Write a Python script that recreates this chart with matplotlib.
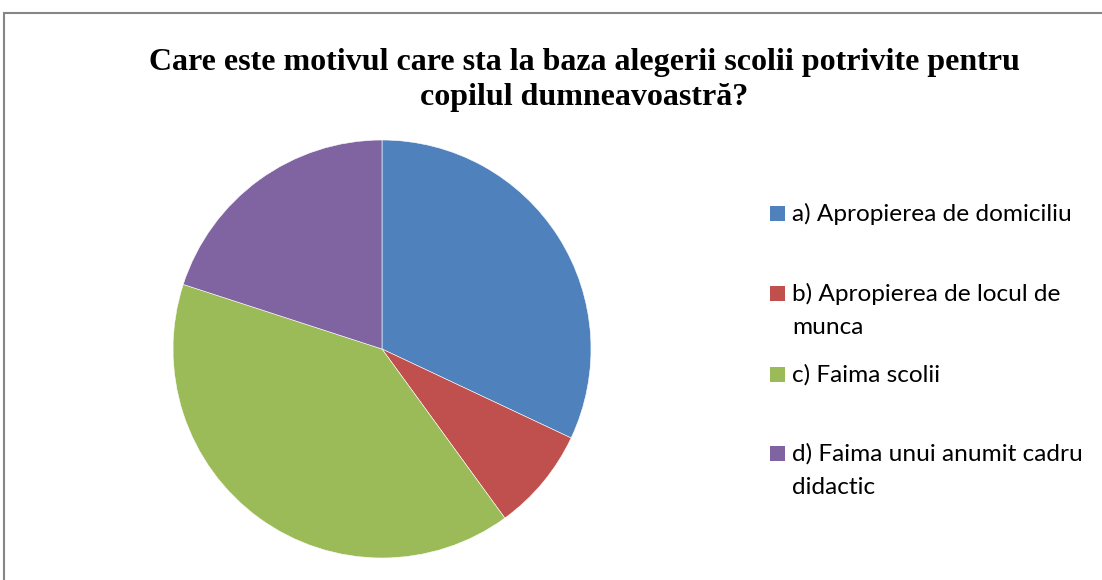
import matplotlib.pyplot as plt
from matplotlib.patches import Rectangle

labels = ['a) Apropierea de domiciliu',
          'b) Apropierea de locul de\nmunca',
          'c) Faima scolii',
          'd) Faima unui anumit cadru\ndidactic']
values = [32, 8, 40, 20]
colors = ['#4F81BD', '#C0504D', '#9BBB59', '#8064A2']
title = 'Care este motivul care sta la baza alegerii scolii potrivite pentru\ncopilul dumneavoastră?'

W, H = 1102, 580
fig = plt.figure(figsize=(W / 100, H / 100), dpi=100)

# outer chart frame (cropped on right/bottom)
fig.add_artist(Rectangle((4 / W, -0.1), 1.2, 1.1 - 13 / H, transform=fig.transFigure,
                         facecolor='none', edgecolor='#868686', lw=1.5, clip_on=False))

# pie
cx, cy, r = 382, 349, 209
ax = fig.add_axes([(cx - r) / W, (H - cy - r) / H, 2 * r / W, 2 * r / H])
ax.pie(values, colors=colors, startangle=90, counterclock=False,
       wedgeprops=dict(edgecolor='white', linewidth=0.4))
ax.set_xlim(-1, 1)
ax.set_ylim(-1, 1)
ax.set_aspect('equal')
ax.axis('off')

# title, one line at a time
for i, line in enumerate(title.split('\n')):
    fig.text(584 / W, 1 - (70 + 35 * i) / H, line, ha='center', va='baseline',
             fontsize=23, fontweight='bold', family='Liberation Serif')

# legend
base_y = [221, 301, 382, 461]
for lab, col, by in zip(labels, colors, base_y):
    fig.add_artist(Rectangle((770 / W, 1 - by / H), 15 / W, 15 / H,
                             transform=fig.transFigure, facecolor=col, edgecolor='none'))
    for j, line in enumerate(lab.split('\n')):
        fig.text(792 / W, 1 - (by + 33 * j) / H, line, ha='left', va='baseline',
                 fontsize=17.6, family='Lato')

plt.savefig('out.png', dpi=100)
